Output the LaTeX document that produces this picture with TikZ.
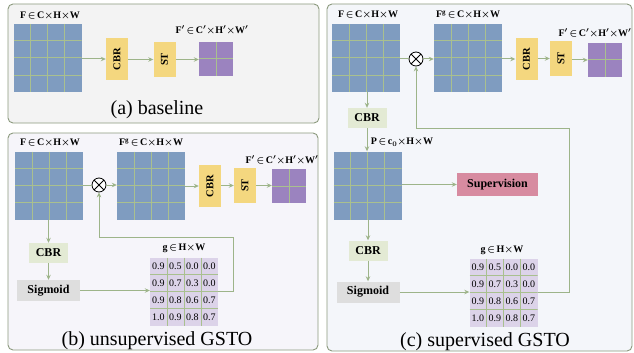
\documentclass[tikz,border=0pt]{standalone}
\usepackage{fontspec}
\setmainfont{Liberation Serif}
\usetikzlibrary{arrows.meta,calc}

\definecolor{featblue}{HTML}{7F9CC0}
\definecolor{featpurple}{HTML}{9B83BF}
\definecolor{gatefill}{HTML}{DCD3E9}
\definecolor{cellline}{HTML}{A9C08F}
\definecolor{flowc}{HTML}{9DB489}
\definecolor{cbryellow}{HTML}{F4D77F}
\definecolor{cbrgreen}{HTML}{E3EAD4}
\definecolor{siggray}{HTML}{DEDEDE}
\definecolor{suppink}{HTML}{D78BA0}
\definecolor{panelline}{HTML}{8C9A7E}
\definecolor{panelA}{HTML}{F3F3F3}
\definecolor{panelB}{HTML}{F6F5FA}
\definecolor{panelC}{HTML}{F4F6FA}

\begin{document}
\begin{tikzpicture}[x=1pt,y=-1pt,
  panel/.style={draw=panelline, line width=0.9pt, rounded corners=5pt},
  cells/.style={path picture={
    \pgfmathtruncatemacro\nlast{#1-1}
    \foreach \k in {1,...,\nlast}{
      \draw[cellline, line width=1pt]
        ($(path picture bounding box.north west)!\k/#1!(path picture bounding box.north east)$) --
        ($(path picture bounding box.south west)!\k/#1!(path picture bounding box.south east)$);
      \draw[cellline, line width=1pt]
        ($(path picture bounding box.north west)!\k/#1!(path picture bounding box.south west)$) --
        ($(path picture bounding box.north east)!\k/#1!(path picture bounding box.south east)$);
    }}},
  fmap/.style={fill=featblue, inner sep=0, minimum width=68, minimum height=68, cells=4},
  fout/.style={fill=featpurple, inner sep=0, minimum width=34, minimum height=34, cells=2},
  gmap/.style={fill=gatefill, inner sep=0, minimum width=68, minimum height=68, cells=4},
  vbox/.style={inner sep=0, font=\fontsize{10.5}{12}\selectfont\bfseries},
  cbrv/.style={vbox, fill=cbryellow, minimum width=22, minimum height=42},
  stv/.style={vbox, fill=cbryellow, minimum width=22, minimum height=35},
  hbox/.style={inner sep=0, font=\fontsize{12}{14}\selectfont\bfseries},
  cbrh/.style={hbox, fill=cbrgreen, minimum width=39, minimum height=20},
  sigbox/.style={hbox, fill=siggray, minimum width=63, minimum height=21},
  supbox/.style={hbox, fill=suppink, minimum width=81, minimum height=23},
  lab/.style={inner sep=0, font=\fontsize{10}{12}\selectfont\bfseries\boldmath},
  gnum/.style={inner sep=0, font=\fontsize{10}{12}\selectfont},
  caption/.style={inner sep=0, font=\fontsize{20}{22}\selectfont},
  otimes/.style={circle, draw=black, fill=white, line width=0.8pt, minimum size=14, inner sep=0,
    path picture={\draw[line width=0.8pt] (path picture bounding box.north west) -- (path picture bounding box.south east)
      (path picture bounding box.north east) -- (path picture bounding box.south west);}},
  flow/.style={draw=flowc, line width=1pt, -{Stealth[length=5pt,width=4.5pt]}},
  link/.style={draw=flowc, line width=1pt}
]
\useasboundingbox (0,0) rectangle (634,353);
\fill[white] (0,0) rectangle (634,353);

% ---------- panels ----------
\draw[panel, fill=panelA] (8,4) rectangle (319,123);
\draw[panel, fill=panelB] (8,133) rectangle (318,350);
\draw[panel, fill=panelC] (327,4) rectangle (632,351);

% ---------- (a) baseline ----------
\node[fmap] (fa) at (47.5,58) {};
\node[lab] (fa-l) at (50,16) {F\,$\in$\,C$\times$H$\times$W};
\node[cbrv] (cbra) at (117,59) {\rotatebox{90}{CBR}};
\node[stv] (sta) at (164.5,59.5) {\rotatebox{90}{ST}};
\node[fout] (oa) at (216,59) {};
\node[lab] (oa-l) at (212,30) {F$'$\,$\in$\,C$'$$\times$H$'$$\times$W$'$};
\draw[flow] (fa.east |- cbra) -- (cbra.west);
\draw[flow] (cbra.east |- sta) -- (sta.west);
\draw[flow] (sta.east) -- (sta.east -| oa.west);
\node[caption] (cap-a) at (157,110) {(a) baseline};

% ---------- (b) unsupervised GSTO ----------
\node[fmap] (fb) at (49,185.5) {};
\node[lab] (fb-l) at (50,143) {F\,$\in$\,C$\times$H$\times$W};
\node[otimes] (xb) at (99,185) {};
\node[fmap] (fgb) at (151,185.5) {};
\node[lab] (fgb-l) at (151,143) {F\textsuperscript{g}\,$\in$\,C$\times$H$\times$W};
\node[cbrv] (cbrb) at (210,186) {\rotatebox{90}{CBR}};
\node[stv] (stb) at (245,185.5) {\rotatebox{90}{ST}};
\node[fout] (ob) at (289,186) {};
\node[lab] (ob-l) at (282,160) {F$'$\,$\in$\,C$'$$\times$H$'$$\times$W$'$};
\node[cbrh] (cbrgb) at (48.5,253) {CBR};
\node[sigbox] (sigb) at (48.5,290.5) {Sigmoid};
\node[gmap] (gb) at (184,291.5) {};
\node[lab] (gb-l) at (184,248) {g\,$\in$\,H$\times$W};
\coordinate (turnb) at (233,237);
\draw[link] (fb.east |- xb) -- (xb.west);
\draw[flow] (xb.east) -- (xb.east -| fgb.west);
\draw[flow] (fgb.east |- cbrb) -- (cbrb.west);
\draw[flow] (cbrb.east |- stb) -- (stb.west);
\draw[flow] (stb.east) -- (stb.east -| ob.west);
\draw[flow] (fb.south -| cbrgb) -- (cbrgb.north);
\draw[flow] (cbrgb.south) -- (sigb.north);
\draw[flow] (sigb.east) -- (sigb.east -| gb.west);
\draw[flow] (gb.east) -| (turnb) -| (xb.south);
\node[caption] (cap-b) at (157,341) {(b) unsupervised GSTO};

% ---------- (c) supervised GSTO ----------
\node[fmap] (fc) at (366,58) {};
\node[lab] (fc-l) at (368,15) {F\,$\in$\,C$\times$H$\times$W};
\node[otimes] (xc) at (416,59) {};
\node[fmap] (fgc) at (468,58) {};
\node[lab] (fgc-l) at (468,15) {F\textsuperscript{g}\,$\in$\,C$\times$H$\times$W};
\node[cbrv] (cbrc) at (526.5,59) {\rotatebox{90}{CBR}};
\node[stv] (stc) at (561,58.5) {\rotatebox{90}{ST}};
\node[fout] (oc) at (605,60) {};
\node[lab] (oc-l) at (595,33) {F$'$\,$\in$\,C$'$$\times$H$'$$\times$W$'$};
\node[cbrh] (cbrgc) at (367,118) {CBR};
\node[fmap] (pc) at (367.5,185.5) {};
\node[lab] (pc-l) at (402,142) {P\,$\in$\,c$_{\mathbf{0}}$$\times$H$\times$W};
\node[supbox] (supc) at (497.5,184.5) {Supervision};
\node[cbrh] (cbrgc2) at (368,250.5) {CBR};
\node[sigbox] (sigc) at (368,292) {Sigmoid};
\node[gmap] (gc) at (503.5,292.5) {};
\node[lab] (gc-l) at (502,250) {g\,$\in$\,H$\times$W};
\coordinate (turnc) at (569,128);
\draw[link] (fc.east |- xc) -- (xc.west);
\draw[flow] (xc.east) -- (xc.east -| fgc.west);
\draw[flow] (fgc.east |- cbrc) -- (cbrc.west);
\draw[flow] (cbrc.east |- stc) -- (stc.west);
\draw[flow] (stc.east |- oc) -- (oc.west);
\draw[flow] (fc.south -| cbrgc) -- (cbrgc.north);
\draw[flow] (cbrgc.south) -- (cbrgc.south |- pc.north);
\draw[flow] (pc.east |- supc) -- (supc.west);
\draw[flow] (pc.south -| cbrgc2) -- (cbrgc2.north);
\draw[flow] (cbrgc2.south) -- (sigc.north);
\draw[flow] (sigc.east) -- (sigc.east -| gc.west);
\draw[flow] (gc.east) -| (turnc) -| (xc.south);
\node[caption] (cap-c) at (485,342) {(c) supervised GSTO};

% ---------- gate values ----------
\foreach \g in {gb,gc}{
  \foreach \r/\vals in {1/{0.9,0.5,0.0,0.0},2/{0.9,0.7,0.3,0.0},3/{0.9,0.8,0.6,0.7},4/{1.0,0.9,0.8,0.7}}{
    \foreach \v [count=\c] in \vals {
      \node[gnum] (\g-\r-\c) at ($(\g.north west)+(\c*17-8.5,\r*17-8.5)$) {\v};
    }
  }
}
\end{tikzpicture}
\end{document}
